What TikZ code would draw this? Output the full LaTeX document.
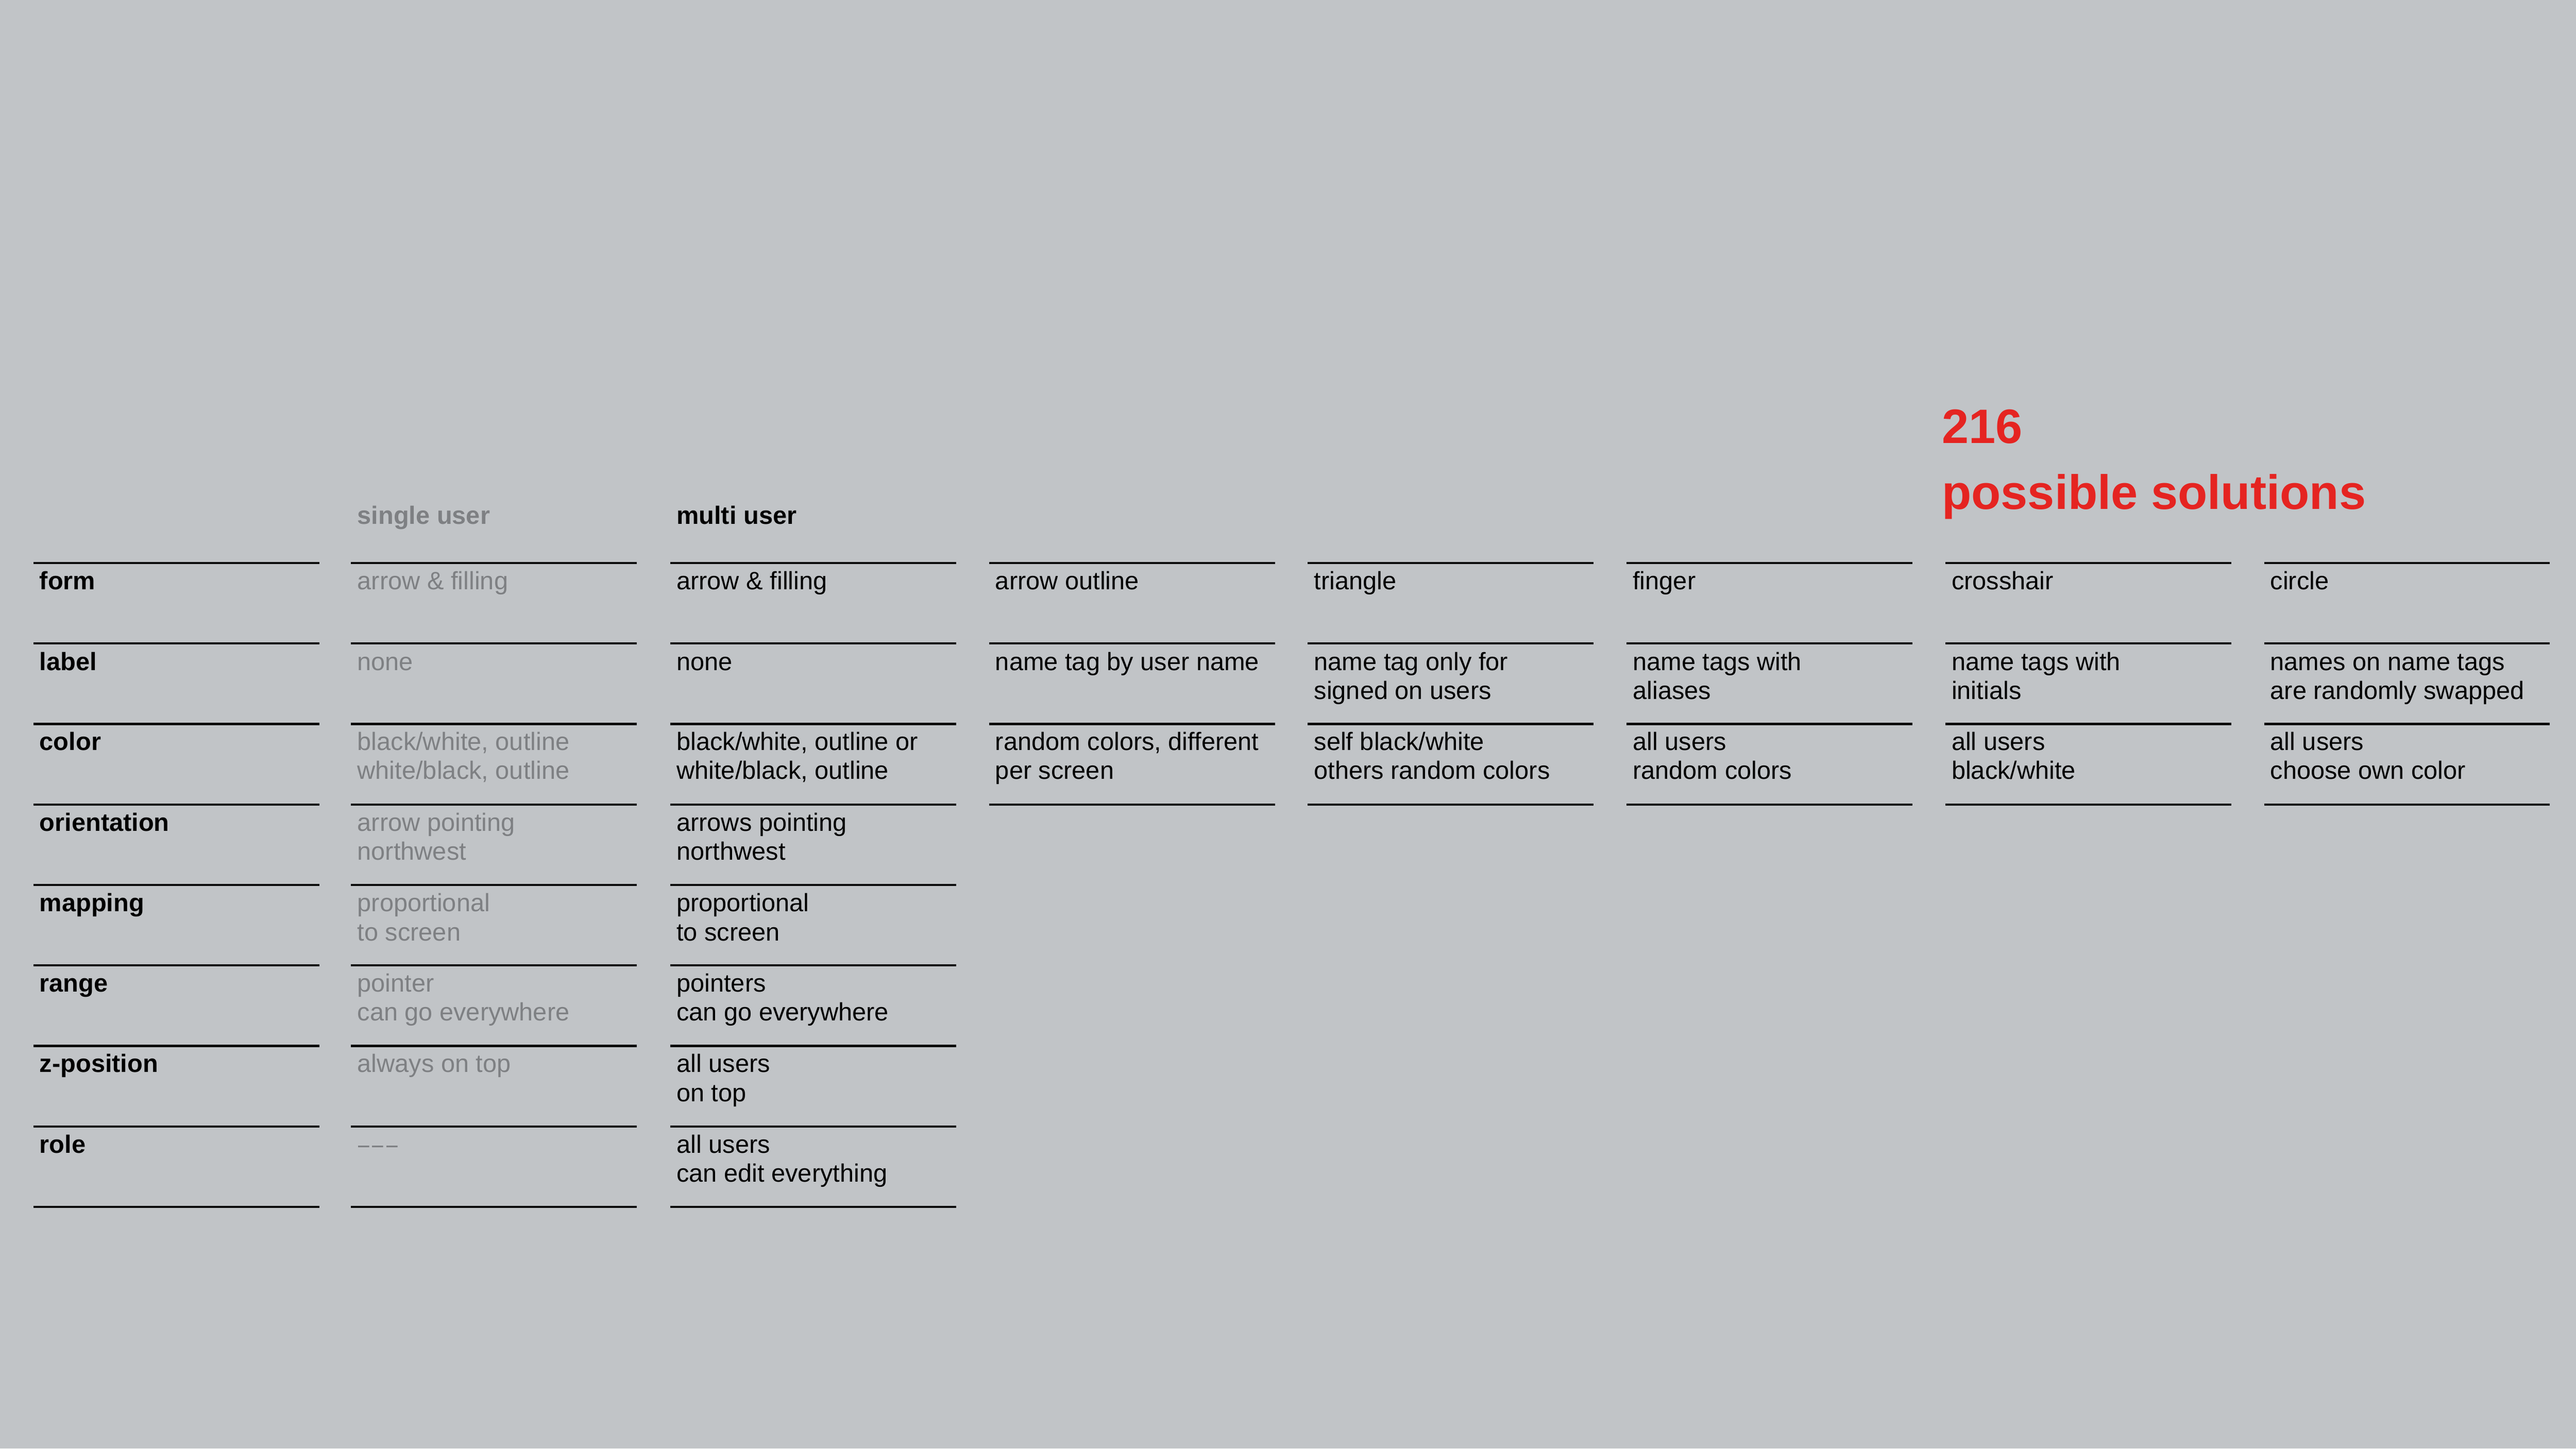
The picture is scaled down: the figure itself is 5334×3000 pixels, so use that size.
\documentclass[tikz,border=0pt]{standalone}
\usepackage{fontspec}
\usepackage{graphicx}
\setmainfont{Liberation Sans}
\definecolor{bgcol}{HTML}{C1C4C7}
\definecolor{greytext}{HTML}{7E8083}
\definecolor{redtext}{HTML}{E52421}
\definecolor{rulecol}{HTML}{0A0A0A}
\newcommand{\shortdash}{\scalebox{0.8}[1]{\textendash}}
\begin{document}
\begin{tikzpicture}[x=0.2pt,y=-0.2pt,
  rulebar/.style={draw=rulecol,line width=0.9pt},
  cell/.style={anchor=base west,inner sep=0pt,align=left,text=black,font=\fontsize{10.4}{12}\selectfont},
  twoline/.style={yshift=-12pt},
  greycell/.style={cell,text=greytext},
  rowhead/.style={cell,font=\fontsize{10.4}{12}\selectfont\bfseries},
  colhead/.style={cell,font=\fontsize{10.4}{12}\selectfont\bfseries},
  bigred/.style={anchor=base west,inner sep=0pt,text=redtext,font=\fontsize{20}{24}\selectfont\bfseries}]
\fill[bgcol] (0,0) rectangle (5334,3000);
\useasboundingbox (0,0) rectangle (5334,3000);
% rules
\foreach \c in {69,727,1388}
  \foreach \k in {0,...,8}
    \draw[rulebar] (\c,{1166+166.67*\k}) -- ++(592,0);
\foreach \c in {2048,2708,3368,4028,4688}
  \foreach \k in {0,...,3}
    \draw[rulebar] (\c,{1166+166.67*\k}) -- ++(592,0);
% title
\node[bigred] (num) at (4020,918) {216};
\node[bigred] (sol) at (4020,1055) {possible solutions};
% column heads
\node[colhead,text=greytext] (hsingle) at (739,1085) {single user};
\node[colhead] (hmulti) at (1400,1085) {multi user};
% row heads
\node[rowhead] (rform) at (81,1221) {form};
\node[rowhead] (rlabel) at (81,1388) {label};
\node[rowhead] (rcolor) at (81,1554) {color};
\node[rowhead] (rorient) at (81,1721) {orientation};
\node[rowhead] (rmap) at (81,1888) {mapping};
\node[rowhead] (rrange) at (81,2054) {range};
\node[rowhead] (rz) at (81,2221) {z-position};
\node[rowhead] (rrole) at (81,2388) {role};
% single user
\node[greycell] (s1) at (739,1221) {arrow \& filling};
\node[greycell] (s2) at (739,1388) {none};
\node[greycell,twoline] (s3) at (739,1554) {black/white, outline\\white/black, outline};
\node[greycell,twoline] (s4) at (739,1721) {arrow pointing\\northwest};
\node[greycell,twoline] (s5) at (739,1888) {proportional\\to screen};
\node[greycell,twoline] (s6) at (739,2054) {pointer\\can go everywhere};
\node[greycell] (s7) at (739,2221) {always on top};
\node[greycell] (s8) at (741,2388) {\shortdash\kern1.2pt\shortdash\kern1.2pt\shortdash};
% multi user
\node[cell] (m1) at (1400,1221) {arrow \& filling};
\node[cell] (m2) at (1400,1388) {none};
\node[cell,twoline] (m3) at (1400,1554) {black/white, outline or\\white/black, outline};
\node[cell,twoline] (m4) at (1400,1721) {arrows pointing\\northwest};
\node[cell,twoline] (m5) at (1400,1888) {proportional\\to screen};
\node[cell,twoline] (m6) at (1400,2054) {pointers\\can go everywhere};
\node[cell,twoline] (m7) at (1400,2221) {all users\\on top};
\node[cell,twoline] (m8) at (1400,2388) {all users\\can edit everything};
% column 4
\node[cell] (a1) at (2060,1221) {arrow outline};
\node[cell] (a2) at (2060,1388) {name tag by user name};
\node[cell,twoline] (a3) at (2060,1554) {random colors, different\\per screen};
% column 5
\node[cell] (b1) at (2720,1221) {triangle};
\node[cell,twoline] (b2) at (2720,1388) {name tag only for\\signed on users};
\node[cell,twoline] (b3) at (2720,1554) {self black/white\\others random colors};
% column 6
\node[cell] (c1) at (3380,1221) {finger};
\node[cell,twoline] (c2) at (3380,1388) {name tags with\\aliases};
\node[cell,twoline] (c3) at (3380,1554) {all users\\random colors};
% column 7
\node[cell] (d1) at (4040,1221) {crosshair};
\node[cell,twoline] (d2) at (4040,1388) {name tags with\\initials};
\node[cell,twoline] (d3) at (4040,1554) {all users\\black/white};
% column 8
\node[cell] (e1) at (4700,1221) {circle};
\node[cell,twoline] (e2) at (4700,1388) {names on name tags\\are randomly swapped};
\node[cell,twoline] (e3) at (4700,1554) {all users\\choose own color};
\end{tikzpicture}
\end{document}
